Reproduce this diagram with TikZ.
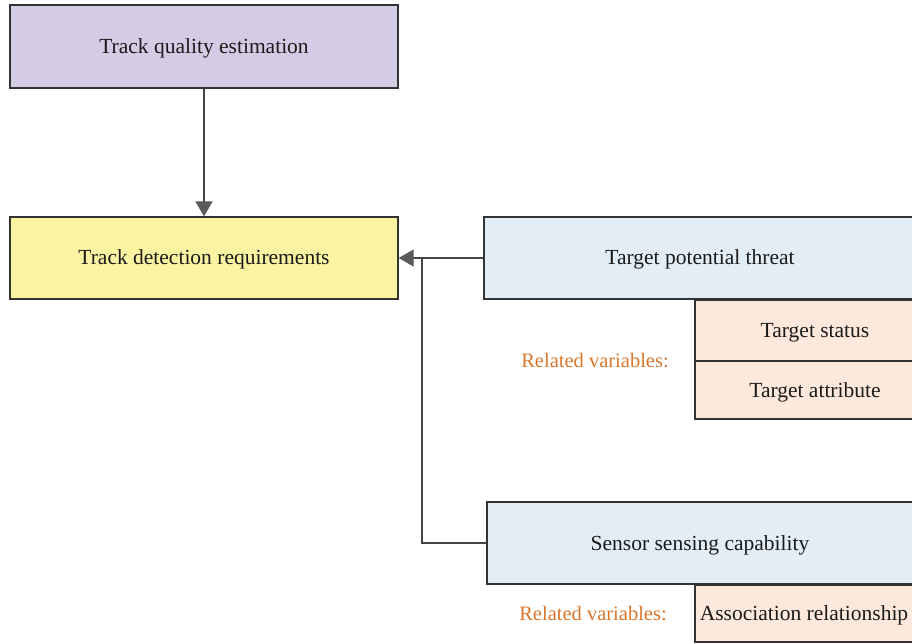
\documentclass[tikz,border=0pt]{standalone}
\usepackage{fontspec}
\setmainfont{Liberation Serif}
\usetikzlibrary{arrows.meta}
\definecolor{edge}{HTML}{333333}
\definecolor{wire}{HTML}{444444}
\definecolor{tip}{HTML}{595959}
\definecolor{lav}{HTML}{D4CBE4}
\definecolor{lemon}{HTML}{FAF4A2}
\definecolor{sky}{HTML}{E2EDF5}
\definecolor{peach}{HTML}{FDE9DC}
\definecolor{rust}{HTML}{D9762C}
\definecolor{ink}{HTML}{1A1A1A}
\begin{document}
\begin{tikzpicture}[x=1pt,y=-1pt,
  box/.style={draw=edge, line width=1.3pt, inner sep=0pt, text=ink,
    text height=19pt, text depth=5pt,
    font=\fontsize{21.5}{24}\selectfont},
  note/.style={text=rust, inner sep=0pt, text height=19pt, text depth=5pt,
    font=\fontsize{20.5}{24}\selectfont},
  link/.style={draw=wire, line width=1.3pt},
  arr/.style={link, -{Triangle[length=15pt,width=17pt,fill=tip,color=tip]}}]
\useasboundingbox (0,0) rectangle (912,644);
\clip (0,0) rectangle (912,644);

% left column
\node[box, fill=lav, minimum width=388pt, minimum height=83pt] (tqe) at (204,46.5) {Track quality estimation};
\node[box, fill=lemon, minimum width=388pt, minimum height=82pt] (tdr) at (204,258) {Track detection requirements};

% threat branch
\node[box, fill=sky, minimum width=432pt, minimum height=82pt] (tpt) at (700,258) {Target potential threat};
\node[box, fill=peach, minimum width=240pt, minimum height=61pt] (status) at (815,330.5) {Target status};
\node[box, fill=peach, minimum width=240pt, minimum height=58pt] (attr) at (815,390) {Target attribute};
\node[note] (rv1) at (595,360) {Related variables:};

% sensing branch
\node[box, fill=sky, minimum width=426pt, minimum height=82pt] (ssc) at (700,543) {Sensor sensing capability};
\node[box, fill=peach, minimum width=218pt, minimum height=57pt] (assoc) at (804,613.5) {Association relationship};
\node[note] (rv2) at (593,613) {Related variables:};

% connectors
\coordinate (bend) at (422,258);
\draw[link] (ssc.west) -| (bend);
\draw[arr] (tqe.south) -- (tdr.north);
\draw[arr] (tpt.west) -- (tdr.east);
\end{tikzpicture}
\end{document}
